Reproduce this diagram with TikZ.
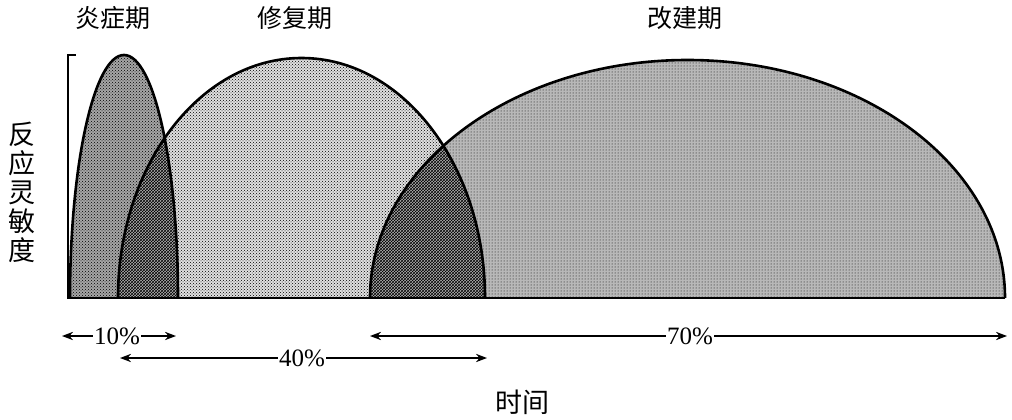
\documentclass[tikz,border=0pt]{standalone}
\usepackage{fontspec}
\setmainfont{Liberation Serif}
\newfontfamily\cjk{Noto Sans CJK SC}
\usetikzlibrary{patterns,arrows.meta}
\tikzset{
  phase/.style={draw=black,line width=2.6pt},
  lab/.style={font=\cjk\fontsize{25}{28}\selectfont},
  pct/.style={font=\fontsize{25}{27}\selectfont,fill=white,inner sep=1pt},
  span/.style={line width=1.8pt,{Stealth[length=11pt]}-{Stealth[length=11pt]}}
}
\begin{document}
\begin{tikzpicture}[x=1pt,y=-1pt]
\useasboundingbox (0,0) rectangle (1012,420);
% remodelling
\fill[black!28] (370,298) arc[start angle=180,end angle=360,x radius=317.5,y radius=238] -- cycle;
\fill[pattern=dots] (370,298) arc[start angle=180,end angle=360,x radius=317.5,y radius=238] -- cycle;
% repair
\fill[black!12] (118,298) arc[start angle=180,end angle=360,x radius=183.5,y radius=240] -- cycle;
\fill[pattern=crosshatch dots] (118,298) arc[start angle=180,end angle=360,x radius=183.5,y radius=240] -- cycle;
\begin{scope}
\clip (370,298) arc[start angle=180,end angle=360,x radius=317.5,y radius=238] -- cycle;
\fill[black!30] (118,298) arc[start angle=180,end angle=360,x radius=183.5,y radius=240] -- cycle;
\fill[pattern=crosshatch] (118,298) arc[start angle=180,end angle=360,x radius=183.5,y radius=240] -- cycle;
\end{scope}
% inflammation
\fill[black!35] (70,298) arc[start angle=180,end angle=360,x radius=54,y radius=243] -- cycle;
\fill[pattern=crosshatch dots] (70,298) arc[start angle=180,end angle=360,x radius=54,y radius=243] -- cycle;
\begin{scope}
\clip (118,298) arc[start angle=180,end angle=360,x radius=183.5,y radius=240] -- cycle;
\fill[black!30] (70,298) arc[start angle=180,end angle=360,x radius=54,y radius=243] -- cycle;
\fill[pattern=crosshatch] (70,298) arc[start angle=180,end angle=360,x radius=54,y radius=243] -- cycle;
\end{scope}
% outlines
\draw[phase] (370,298) arc[start angle=180,end angle=360,x radius=317.5,y radius=238];
\draw[phase] (118,298) arc[start angle=180,end angle=360,x radius=183.5,y radius=240];
\draw[phase] (70,298) arc[start angle=180,end angle=360,x radius=54,y radius=243];
\coordinate (o) at (68,298);
\coordinate (e) at (1005,298);
\coordinate (t) at (68,55);
\draw[line width=2.6pt] (e) -- (o) -- (t) -- ++(8,0);
% labels
\node[lab] (l1) at (113,18) {炎症期};
\node[lab] (l2) at (295,18) {修复期};
\node[lab] (l3) at (685,18) {改建期};
\node[lab,align=center,font=\cjk\fontsize{27}{29}\selectfont] (ly) at (22,192) {反\\应\\灵\\敏\\度};
\node[lab,font=\cjk\fontsize{27}{29}\selectfont] (lx) at (522,402) {时间};
% spans
\coordinate (a1) at (62,336); \coordinate (b1) at (176,336);
\coordinate (a2) at (120,358); \coordinate (b2) at (487,358);
\coordinate (a3) at (370,336); \coordinate (b3) at (1007,336);
\draw[span] (a1) -- (b1);
\draw[span] (a2) -- (b2);
\draw[span] (a3) -- (b3);
\node[pct] (p1) at (117,336) {10\%};
\node[pct] (p2) at (302,358) {40\%};
\node[pct] (p3) at (690,336) {70\%};
\end{tikzpicture}
\end{document}
